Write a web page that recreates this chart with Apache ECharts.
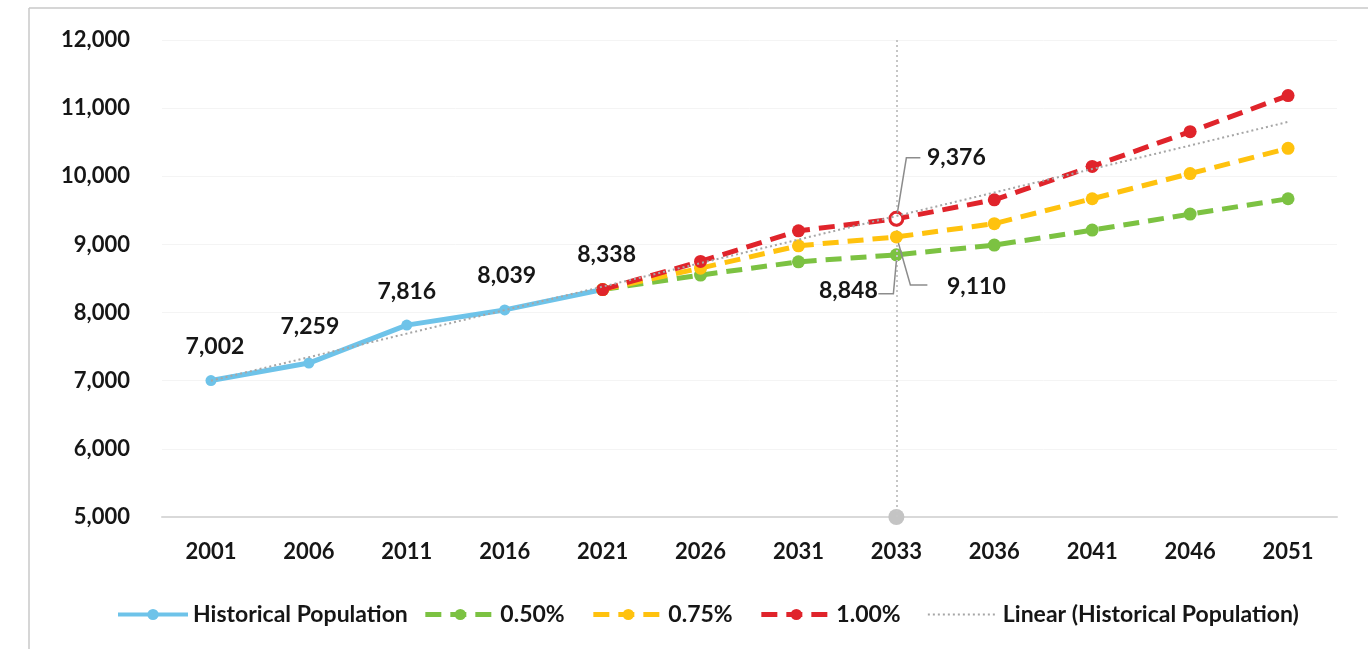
<!DOCTYPE html>
<html>
<head>
<meta charset="utf-8">
<script src="https://cdn.jsdelivr.net/npm/echarts@6/dist/echarts.min.js"></script>
<style>
html,body{margin:0;padding:0;background:#fff;}
#main{width:1368px;height:649px;}
</style>
</head>
<body>
<div id="main"></div>
<script>
const years = ['2001','2006','2011','2016','2021','2026','2031','2033','2036','2041','2046','2051'];
const historical = [7002, 7259, 7816, 8039, 8338, null, null, null, null, null, null, null];
const growth050 = [null, null, null, null, 8338, 8550, 8745, 8848, 8990, 9210, 9445, 9670];
const growth075 = [null, null, null, null, 8338, 8652, 8980, 9110, 9305, 9670, 10040, 10410];
const growth100 = [null, null, null, null, 8338, 8750, 9200, 9376, 9655, 10145, 10655, 11185];
const linearTrend = [7000, 7345, 7691, 8036, 8381, 8726, 9071, 9417, 9762, 10107, 10452, 10798];
const refPoint = [null, null, null, null, null, null, null, 5000, null, null, null, null];
const yTicks = [5000, 6000, 7000, 8000, 9000, 10000, 11000, 12000];

const FONT = 'Lato';
const WEIGHT = 'bold';
const TXT = '#161616';
const fmt = v => Number(v).toLocaleString('en-US');

const histOffsets = [[4,-34],[1,-36],[0,-34],[2,-34],[4,-35]];
const refIdx = years.indexOf('2033');

const colors = { hist: '#6ec3e9', g050: '#7cc242', g075: '#ffc20e', g100: '#e0242b', lin: '#a6a6a6' };

function labelCfg(offset) {
  return { show: true, position: 'inside', offset: offset, formatter: p => fmt(p.value),
    fontFamily: FONT, fontWeight: WEIGHT, fontSize: 23, color: TXT };
}
function labelled(arr, idx, offset, extra) {
  return arr.map((v, i) => {
    if (i !== idx || v == null) return v;
    const d = { value: v, label: labelCfg(offset) };
    if (extra) Object.assign(d, extra);
    return d;
  });
}

const histData = historical.map((v, i) => v == null ? v : { value: v, label: labelCfg(histOffsets[i]) });

const chart = echarts.init(document.getElementById('main'));
const option = {
  animation: false,
  backgroundColor: '#ffffff',
  grid: { left: 162, right: 31, top: 40, bottom: 132 },
  legend: {
    data: [
      { name: 'Historical Population', lineStyle: { width: 4 } },
      { name: '0.50%', lineStyle: { width: 5 } },
      { name: '0.75%', lineStyle: { width: 5 } },
      { name: '1.00%', lineStyle: { width: 5 } },
      { name: 'Linear (Historical Population)', itemStyle: { opacity: 0 }, lineStyle: { width: 2 } }
    ],
    formatter: name => /%$/.test(name) ? name + '\u00a0\u00a0' : name,
    left: 111, top: 598,
    itemWidth: 70, itemHeight: 14, itemGap: 15,
    textStyle: { fontFamily: FONT, fontWeight: WEIGHT, fontSize: 23, color: TXT }
  },
  xAxis: {
    type: 'category', data: years, boundaryGap: true,
    axisLine: { lineStyle: { color: '#d9d9d9', width: 2 } },
    axisTick: { show: false },
    axisLabel: { fontFamily: FONT, fontWeight: WEIGHT, fontSize: 22, color: TXT, margin: 24 }
  },
  yAxis: {
    type: 'value', min: yTicks[0], max: yTicks[yTicks.length - 1], interval: 1000,
    axisLine: { show: false }, axisTick: { show: false },
    splitLine: { lineStyle: { color: '#f4f4f4', width: 1 } },
    axisLabel: { fontFamily: FONT, fontWeight: WEIGHT, fontSize: 22, color: TXT, margin: 32, formatter: v => fmt(v) }
  },
  series: [
    {
      name: 'ref', type: 'line', data: refPoint, symbol: 'circle', symbolSize: 16,
      itemStyle: { color: '#c4c4c4' }, lineStyle: { width: 0 }, z: 1,
      markLine: {
        silent: true, symbol: 'none', label: { show: false },
        lineStyle: { color: '#c6c6c6', type: [2, 3], width: 2 },
        data: [{ xAxis: '2033' }]
      }
    },
    {
      name: 'Historical Population', type: 'line', data: histData, symbol: 'circle', symbolSize: 11,
      itemStyle: { color: colors.hist }, lineStyle: { color: colors.hist, width: 5 }, z: 3
    },
    {
      name: '0.50%', type: 'line', data: labelled(growth050, refIdx, [-48, 36]), symbol: 'circle', symbolSize: 13,
      itemStyle: { color: colors.g050 }, lineStyle: { color: colors.g050, width: 5, type: [16, 9] }, z: 4
    },
    {
      name: '0.75%', type: 'line', data: labelled(growth075, refIdx, [80, 50]), symbol: 'circle', symbolSize: 13,
      itemStyle: { color: colors.g075 }, lineStyle: { color: colors.g075, width: 5, type: [16, 9] }, z: 5
    },
    {
      name: '1.00%', type: 'line',
      data: labelled(growth100, refIdx, [60, -61], { itemStyle: { color: '#ffffff', borderColor: colors.g100, borderWidth: 3 } }),
      symbol: 'circle', symbolSize: 13,
      itemStyle: { color: colors.g100 }, lineStyle: { color: colors.g100, width: 5, type: [16, 9] }, z: 6
    },
    {
      name: 'Linear (Historical Population)', type: 'line', data: linearTrend, showSymbol: false, symbol: 'none',
      itemStyle: { color: colors.lin }, lineStyle: { color: colors.lin, width: 2, type: [2, 3] }, z: 7
    }
  ]
};
chart.setOption(option);

const p100 = chart.convertToPixel({ seriesIndex: 0 }, [refIdx, growth100[refIdx]]);
const p075 = chart.convertToPixel({ seriesIndex: 0 }, [refIdx, growth075[refIdx]]);
const p050 = chart.convertToPixel({ seriesIndex: 0 }, [refIdx, growth050[refIdx]]);
const leader = { stroke: '#8c8c8c', lineWidth: 1.5, fill: null };
chart.setOption({
  graphic: [
    { type: 'line', shape: { x1: 29, y1: 8, x2: 1368, y2: 8 }, style: { stroke: '#c8c8c8', lineWidth: 1.5 }, silent: true },
    { type: 'line', shape: { x1: 29, y1: 8, x2: 29, y2: 649 }, style: { stroke: '#c8c8c8', lineWidth: 1.5 }, silent: true },
    { type: 'polyline', shape: { points: [[p100[0] + 1, p100[1] - 6], [p100[0] + 10, p100[1] - 61], [p100[0] + 24, p100[1] - 61]] }, style: leader, silent: true, z: 10 },
    { type: 'polyline', shape: { points: [[p075[0] + 2, p075[1] + 6], [p075[0] + 14, p075[1] + 48], [p075[0] + 31, p075[1] + 48]] }, style: leader, silent: true, z: 10 },
    { type: 'polyline', shape: { points: [[p050[0], p050[1] + 6], [p050[0] - 3, p050[1] + 39], [p050[0] - 18, p050[1] + 39]] }, style: leader, silent: true, z: 10 }
  ]
});
</script>
</body>
</html>
